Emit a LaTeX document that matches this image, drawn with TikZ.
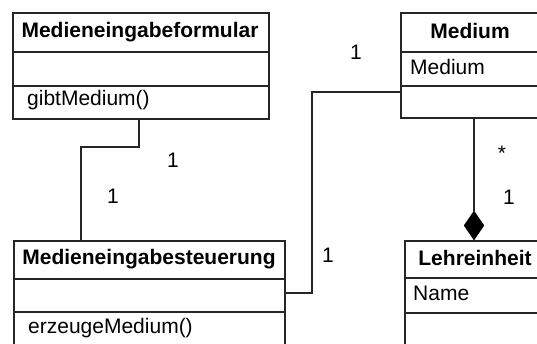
\documentclass[tikz,border=0pt]{standalone}
\usepackage{fontspec}
\setmainfont{Liberation Sans}
\usetikzlibrary{shapes.geometric}

\tikzset{
  cls/.style={draw=black!85, line width=1.5pt, fill=white, anchor=north west, inner sep=0pt},
  divider/.style={draw=black!85, line width=1.5pt},
  wire/.style={draw=black!85, line width=1.5pt},
  title/.style={font=\fontsize{21}{25}\selectfont\bfseries, inner sep=0pt},
  member/.style={font=\fontsize{21}{25}\selectfont, inner sep=0pt, anchor=west},
  mult/.style={font=\fontsize{21}{25}\selectfont, inner sep=0pt},
  comp/.style={diamond, draw=black, fill=black, inner sep=0pt, minimum width=20pt, minimum height=29pt}
}

\begin{document}
\begin{tikzpicture}[x=1pt, y=-1pt]
  \useasboundingbox (0,0) rectangle (537,343);
  \clip (0,0) rectangle (537,343);
  \fill[white] (0,0) rectangle (537,343);

  % class boxes
  \node[cls, minimum width=256pt, minimum height=106pt] (f) at (12,12) {};
  \node[cls, minimum width=271pt, minimum height=120pt] (s) at (13,240) {};
  \node[cls, minimum width=160pt, minimum height=105pt] (m) at (400,12) {};
  \node[cls, minimum width=156pt, minimum height=120pt] (l) at (404,240) {};

  % compartment lines
  \draw[divider] (12,52) -- (268,52) (12,86) -- (268,86);
  \draw[divider] (13,279) -- (284,279) (13,312) -- (284,312);
  \draw[divider] (400,52) -- (560,52) (400,86) -- (560,86);
  \draw[divider] (404,278) -- (560,278) (404,313) -- (560,313);

  % class names and members
  \node[title] (ft) at (140,32) {Medieneingabeformular};
  \node[member] (fm) at (27,100) {gibtMedium()};
  \node[title] (st) at (149,259) {Medieneingabesteuerung};
  \node[member] (sm) at (28,328) {erzeugeMedium()};
  \node[title] (mt) at (470,31) {Medium};
  \node[member] (ma) at (410,67) {Medium};
  \node[title] (lt) at (475,258) {Lehreinheit};
  \node[member] (la) at (413,293) {Name};

  % association formular -- steuerung
  \coordinate (k1) at (81,147);
  \draw[wire] (f.south -| 139,0) |- (k1) -- (k1 |- s.north);

  % association medium -- steuerung
  \coordinate (k2) at (312,92);
  \coordinate (k3) at (312,293);
  \draw[wire] (k2 -| m.west) -- (k2) -- (k3) -- (k3 -| s.east);

  % composition lehreinheit -- medium
  \node[comp] (d) at (474,225.5) {};
  \draw[wire] (d.north |- m.south) -- (d.north);

  % multiplicities
  \node[mult] (n1) at (173,160) {1};
  \node[mult] (n2) at (113,196) {1};
  \node[mult] (n3) at (356,52) {1};
  \node[mult] (n4) at (328,255) {1};
  \node[mult] (n5) at (502,153) {*};
  \node[mult] (n6) at (509,197) {1};
\end{tikzpicture}
\end{document}
